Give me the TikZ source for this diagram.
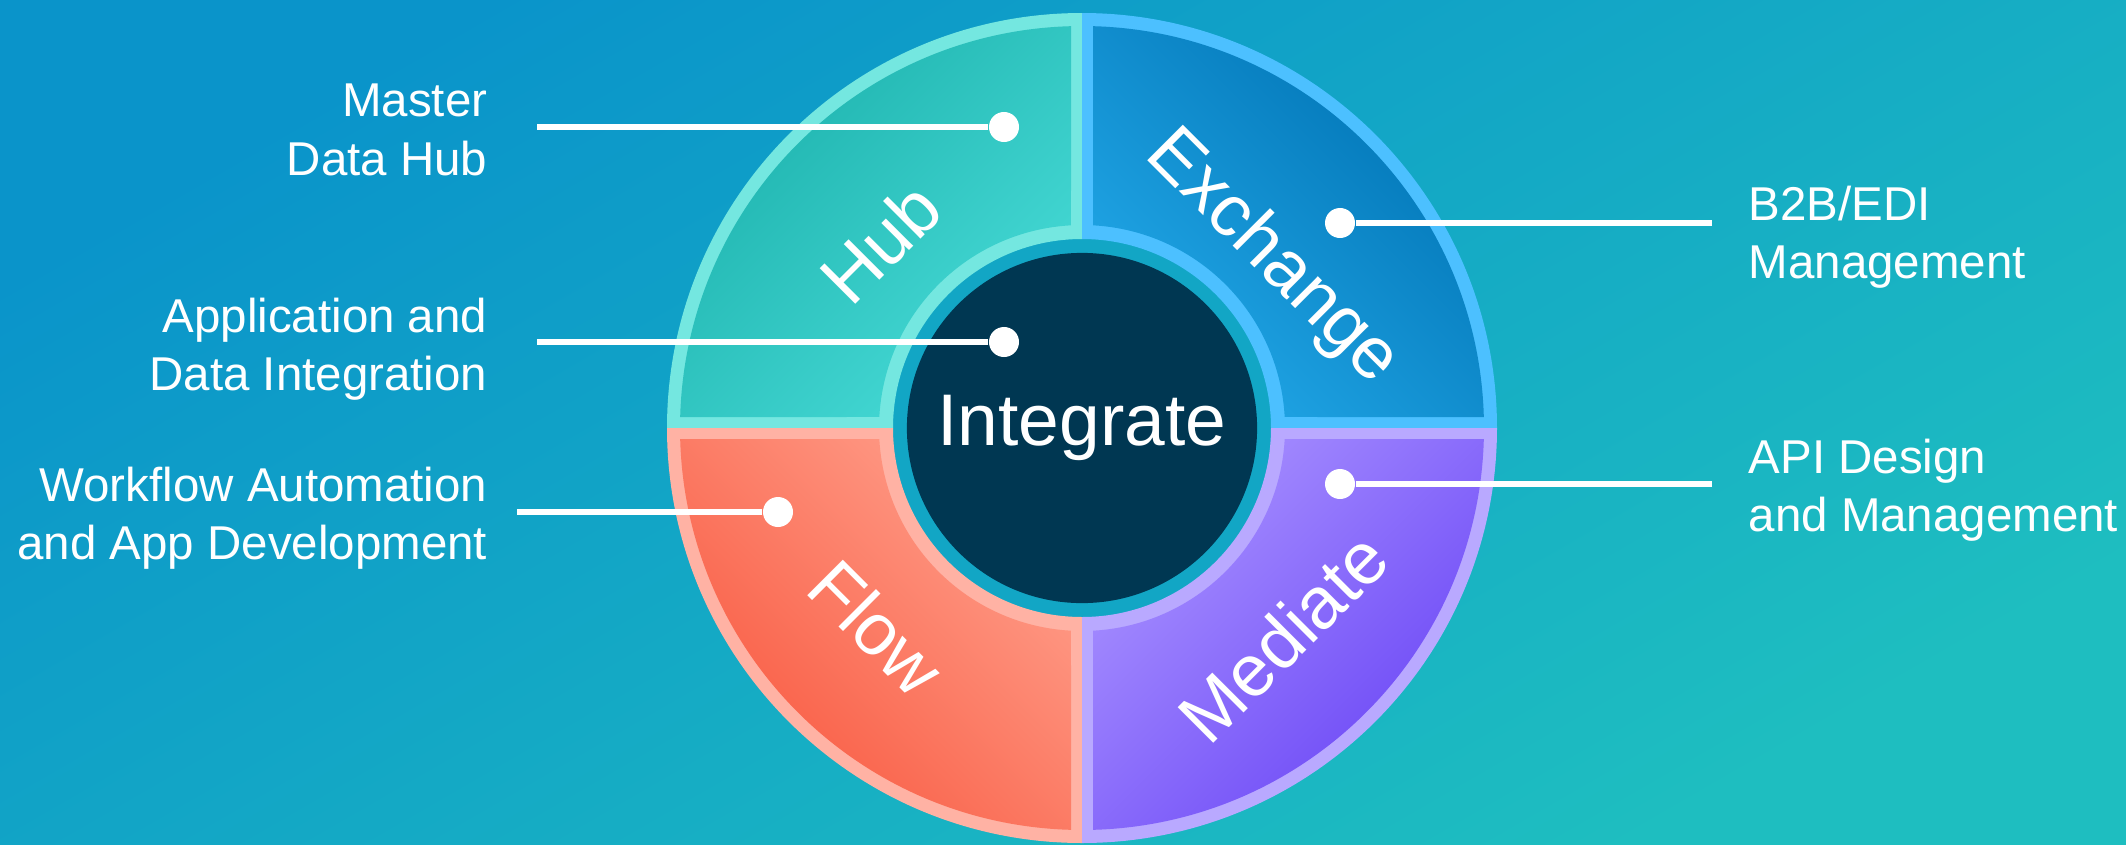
\documentclass[tikz,border=0pt]{standalone}
\usepackage{fontspec}
\setmainfont{Liberation Sans}

\definecolor{bgtop}{HTML}{0A94CA}
\definecolor{bgbottom}{HTML}{1EBEC0}
\definecolor{ringblue}{HTML}{12A6C5}
\definecolor{coredark}{HTML}{003752}
\definecolor{hubedge}{HTML}{74E7E0}
\definecolor{hubdark}{HTML}{1DB2AD}
\definecolor{hubbright}{HTML}{46DAD6}
\definecolor{exedge}{HTML}{4CC0FF}
\definecolor{exdark}{HTML}{0073B4}
\definecolor{exbright}{HTML}{22A8E8}
\definecolor{flowedge}{HTML}{FFB2A4}
\definecolor{flowdark}{HTML}{F8583F}
\definecolor{flowbright}{HTML}{FF9E8A}
\definecolor{mededge}{HTML}{B9A9FF}
\definecolor{meddark}{HTML}{6944F6}
\definecolor{medbright}{HTML}{A891FF}

\tikzset{
	dot/.style={circle, fill=white, inner sep=0pt, minimum size=0.3cm},
	leader/.style={white, line width=1.45pt},
	sidelabel/.style={text=white, inner sep=0pt, font=\fontsize{13.5pt}{16.65pt}\selectfont},
	ringlabel/.style={text=white, inner sep=0pt, font=\fontsize{20.8pt}{25pt}\selectfont}
}

\begin{document}
\begin{tikzpicture}[x=0.01cm, y=0.01cm]
			\useasboundingbox (0,0) rectangle (2126,844);
			\shade[top color=bgtop, bottom color=bgbottom, shading angle=30] (0,0) rectangle (2126,844);
			
			\begin{scope}[shift={(1082,416)}]
			\fill[ringblue] (0,0) circle (190);
			
			\fill[hubedge] (90:415) arc[start angle=90, end angle=180, radius=415] -- (180:189) arc[start angle=180, end angle=90, radius=189] -- cycle;
			\fill[exedge] (0:415) arc[start angle=0, end angle=90, radius=415] -- (90:189) arc[start angle=90, end angle=0, radius=189] -- cycle;
			\fill[flowedge] (180:415) arc[start angle=180, end angle=270, radius=415] -- (270:189) arc[start angle=270, end angle=180, radius=189] -- cycle;
			\fill[mededge] (270:415) arc[start angle=270, end angle=360, radius=415] -- (360:189) arc[start angle=360, end angle=270, radius=189] -- cycle;
			
			\shade[top color=hubdark, bottom color=hubbright, shading angle=45] (91.57:402) arc[start angle=91.57, end angle=178.43, radius=402] -- (176.89:203) arc[start angle=176.89, end angle=93.11, radius=203] -- cycle;
			\shade[top color=exdark, bottom color=exbright, shading angle=-45] (1.57:402) arc[start angle=1.57, end angle=88.43, radius=402] -- (86.89:203) arc[start angle=86.89, end angle=3.11, radius=203] -- cycle;
			\shade[top color=flowdark, bottom color=flowbright, shading angle=135] (181.57:402) arc[start angle=181.57, end angle=268.43, radius=402] -- (266.89:203) arc[start angle=266.89, end angle=183.11, radius=203] -- cycle;
			\shade[top color=meddark, bottom color=medbright, shading angle=-135] (271.57:402) arc[start angle=271.57, end angle=358.43, radius=402] -- (356.89:203) arc[start angle=356.89, end angle=273.11, radius=203] -- cycle;
			\end{scope}
			
			\node[circle, fill=coredark, minimum size=3.5cm, inner sep=0pt, text=white, font=\fontsize{20.8pt}{25pt}\selectfont] (core) at (1082,416) {Integrate};
			
			\node[ringlabel, rotate=45] (hub) at (880,601) {Hub};
			\node[ringlabel, rotate=-45] (exchange) at (1272,586) {Exchange};
			\node[ringlabel, rotate=-45] (flow) at (877,216) {Flow};
			\node[ringlabel, rotate=45] (mediate) at (1283,207) {Mediate};
			
			\node[dot] (hubdot) at (1004,717) {};
			\node[dot] (coredot) at (1004,502) {};
			\node[dot] (flowdot) at (778,332) {};
			\node[dot] (exdot) at (1340,621) {};
			\node[dot] (meddot) at (1340,360) {};
			
			\coordinate (hubend) at (537,717);
			\coordinate (coreend) at (537,502);
			\coordinate (flowend) at (517,332);
			\coordinate (exend) at (1712,621);
			\coordinate (medend) at (1712,360);
			
			\draw[leader] (hubend) -- (hubdot);
			\draw[leader] (coreend) -- (coredot);
			\draw[leader] (flowend) -- (flowdot);
			\draw[leader] (exend) -- (exdot);
			\draw[leader] (medend) -- (meddot);
			
			\node[sidelabel, anchor=east, align=right] (hubtext) at (488,714) {Master\\Data Hub};
			\node[sidelabel, anchor=east, align=right] (coretext) at (488,495) {Application and\\Data Integration};
			\node[sidelabel, anchor=east, align=right] (flowtext) at (488,326) {Workflow Automation\\and App Development};
			\node[sidelabel, anchor=west, align=left] (extext) at (1748,607) {B2B/EDI\\Management};
			\node[sidelabel, anchor=west, align=left] (medtext) at (1748,354) {API Design\\and Management};
			\end{tikzpicture}
\end{document}
